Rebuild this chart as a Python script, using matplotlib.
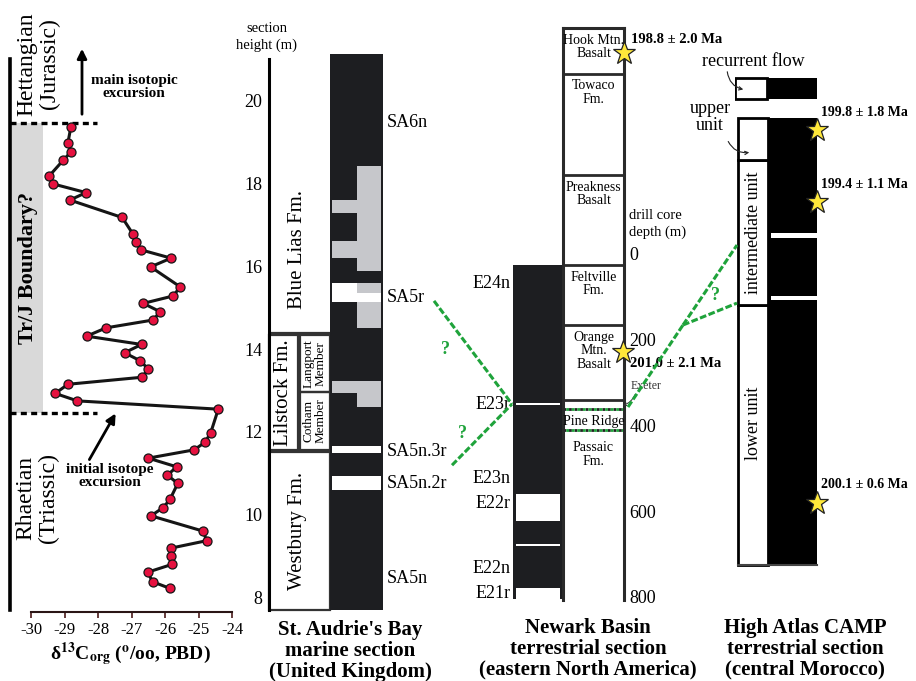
import matplotlib
matplotlib.use("Agg")
import matplotlib.pyplot as plt
from matplotlib.patches import Rectangle, FancyArrowPatch

plt.rcParams['font.family'] = ['Liberation Serif', 'DejaVu Serif']
plt.rcParams['mathtext.fontset'] = 'stix'
plt.rcParams['axes.unicode_minus'] = False

W, H = 916, 681
BLACK = '#1d1e21'
GREY = '#c6c7cb'
BAND = '#d9d9d9'
GREEN = '#1fa33b'
STAR = '#ffe83a'
DOT = '#e5113f'

# St. Audrie's Bay organic carbon isotopes: section height (m) and d13C (per mil)
iso_height = [19.36, 18.97, 18.75, 18.55, 18.17, 17.98, 17.77, 17.59, 17.17, 16.76,
              16.59, 16.39, 16.19, 15.98, 15.50, 15.28, 15.10, 14.90, 14.70, 14.51,
              14.31, 14.11, 13.91, 13.72, 13.52, 13.32, 13.15, 12.93, 12.75, 12.55,
              11.97, 11.75, 11.57, 11.37, 11.16, 10.96, 10.76, 10.38, 10.18, 9.98,
              9.61, 9.38, 9.20, 9.00, 8.81, 8.62, 8.39, 8.23]
iso_d13c = [-28.81, -28.90, -28.81, -29.04, -29.46, -29.35, -28.36, -28.84, -27.28, -26.95,
            -26.87, -26.72, -25.82, -26.43, -25.55, -25.75, -26.65, -26.15, -26.35, -27.76,
            -28.34, -26.70, -27.21, -26.75, -26.50, -26.68, -28.90, -29.28, -28.62, -24.41,
            -24.64, -24.81, -25.13, -26.50, -25.65, -25.93, -25.62, -25.85, -26.05, -26.42,
            -24.86, -24.76, -25.83, -25.81, -25.79, -26.52, -26.37, -25.85]
tj_base, tj_top = 12.46, 19.45
height_ticks = [8, 10, 12, 14, 16, 18, 20]
d13c_ticks = [-30, -29, -28, -27, -26, -25, -24]
SAB_YLIM = (7.71, 21.11)

# St. Audrie's Bay lithostratigraphy (m)
sab_formations = ['Westbury Fm.', 'Lilstock Fm.', 'Blue Lias Fm.']
sab_fm_base = [7.71, 11.57, 14.38]
sab_fm_top = [11.52, 14.33, 21.11]
sab_members = ['Cotham\nMember', 'Langport\nMember']
sab_mb_base = [11.57, 12.96]
sab_mb_top = [12.96, 14.33]

# St. Audrie's Bay magnetostratigraphy: reversed (white) and uncertain (grey) intervals
sab_zone_base = [15.88, 17.28, 16.19, 15.35, 15.35, 15.13, 14.50, 12.94, 12.60, 11.49, 10.60]
sab_zone_top = [18.41, 17.59, 16.60, 15.59, 15.59, 15.35, 15.13, 13.23, 12.94, 11.66, 10.94]
sab_zone_part = ['right', 'left', 'left', 'left', 'right', 'full', 'right', 'full', 'right', 'full', 'full']
sab_zone_kind = ['grey', 'grey', 'grey', 'white', 'grey', 'white', 'grey', 'grey', 'grey', 'white', 'white']
sab_chron = ['SA6n', 'SA5r', 'SA5n.3r', 'SA5n.2r', 'SA5n']
sab_chron_height = [19.47, 15.23, 11.52, 10.77, 8.48]

# Newark Basin drill core (depth, m)
NWK_YLIM = (807, -527)
nwk_formations = ['Hook Mtn.\nBasalt', 'Towaco\nFm.', 'Preakness\nBasalt', 'Feltville\nFm.',
                  'Orange\nMtn.\nBasalt', '', 'Pine Ridge', 'Passaic\nFm.']
nwk_fm_top = [-527, -420, -184, 26, 166, 341, 362, 411]
nwk_dotted = [362, 411]
nwk_pol_top, nwk_pol_base = 26, 805
nwk_rev_top = [348, 560, 677, 779]
nwk_rev_base = [352, 623, 681, 805]
nwk_chron = ['E24n', 'E23r', 'E23n', 'E22r', 'E22n', 'E21r']
nwk_chron_depth = [68, 350, 523, 583, 733, 793]
depth_ticks = [0, 200, 400, 600, 800]
nwk_age_depth = [-469, 229]
nwk_age_label = ['198.8 ± 2.0 Ma', '201.0 ± 2.1 Ma']

# High Atlas CAMP basalts (relative height, % of main pile)
atlas_units = ['lower unit', 'intermediate unit', '']
atlas_unit_base = [0, 58.2, 90.6]
atlas_unit_top = [58.2, 90.6, 100]
atlas_flow_base, atlas_flow_top = 104.2, 108.9
atlas_rev_base = [59.3, 73.2]
atlas_rev_top = [60.2, 74.3]
atlas_age_height = [97.3, 81.2, 13.9]
atlas_age_label = ['199.8 ± 1.8 Ma', '199.4 ± 1.1 Ma', '200.1 ± 0.6 Ma']

# correlation ties
tie_sab_height = [15.16, 11.2]
tie_nwk_left, tie_nwk_right = 350, 357
tie_atlas_height = [71.6, 58.6]
tie_atlas_junction = 53.7

fig = plt.figure(figsize=(W / 100, H / 100), dpi=100)
ov = fig.add_axes([0, 0, 1, 1], zorder=10)
ov.set_xlim(0, W)
ov.set_ylim(H, 0)
ov.axis('off')


def px_axes(x0, y0, x1, y1):
    ax = fig.add_axes([x0 / W, 1 - y1 / H, (x1 - x0) / W, (y1 - y0) / H])
    ax.patch.set_visible(False)
    return ax


def bare(ax):
    for s in ax.spines.values():
        s.set_visible(False)
    ax.set_xticks([])
    ax.set_yticks([])


def ypx(ax, y):
    disp = ax.transData.transform((0, y))
    return ov.transData.inverted().transform(disp)[1]


def star(ax, x, y):
    ax.plot(x, y, marker='*', ms=17, mfc=STAR, mec='#222', mew=0.9, clip_on=False, zorder=5)


# ---- isotope curve
ax_iso = px_axes(10, 54, 232, 612)
ax_iso.set_xlim(-30.63, -24)
ax_iso.set_ylim(SAB_YLIM[0] - 2 / 41.5, SAB_YLIM[1])
ax_iso.add_patch(Rectangle((-30.63, tj_base), 0.985, tj_top - tj_base, color=BAND, lw=0, zorder=0))
for h in (tj_base, tj_top):
    ax_iso.plot([-30.63, -28.03], [h, h], color='k', lw=2.4, ls=(0, (1.8, 1.3)), clip_on=False)
ax_iso.plot(iso_d13c, iso_height, color='#151515', lw=2.2, marker='o', ms=6.5,
            mfc=DOT, mec='#151515', mew=0.9, zorder=3)
ax_iso.spines['top'].set_visible(False)
ax_iso.spines['right'].set_visible(False)
ax_iso.spines['left'].set_linewidth(2.6)
ax_iso.spines['left'].set_bounds(7.72, 21.0)
ax_iso.spines['bottom'].set_bounds(-30, -24)
ax_iso.spines['bottom'].set_linewidth(1.5)
ax_iso.spines['bottom'].set_color('#2a1515')
ax_iso.set_yticks([])
ax_iso.set_xticks(d13c_ticks)
ax_iso.set_xticklabels([str(t) for t in d13c_ticks])
ax_iso.tick_params(axis='x', direction='out', length=4, width=1.2, color='#4a1a1a',
                   labelsize=12, pad=3)

ov.text(38, 64, 'Hettangian\n(Jurassic)', rotation=90, fontsize=17, ha='center', va='center',
        linespacing=1.1)
ov.text(37, 498, 'Rhaetian\n(Triassic)', rotation=90, fontsize=17, ha='center', va='center',
        linespacing=1.1)
ov.text(28, 268, 'Tr/J Boundary?', rotation=90, fontsize=16, fontweight='bold',
        ha='center', va='center')
ov.add_patch(FancyArrowPatch((82, 117), (82, 46), arrowstyle='-|>', mutation_scale=14,
                             lw=2, color='k'))
ov.text(134, 87, 'main isotopic\nexcursion', fontsize=11, fontweight='bold', ha='center',
        va='center', linespacing=1.0)
ov.add_patch(FancyArrowPatch((88, 462), (117, 411), arrowstyle='-|>', mutation_scale=14,
                             lw=2, color='k'))
ov.text(110, 476, 'initial isotope\nexcursion', fontsize=11, fontweight='bold', ha='center',
        va='center', linespacing=1.0)
ov.text(130, 654, 'δ$^{\\mathbf{13}}$C$_{\\mathbf{org}}$ ($^{\\mathbf{o}}$/oo, PBD)',
        fontsize=14, fontweight='bold', ha='center', va='center')

# ---- St. Audrie's Bay lithology
ax_fm = px_axes(269, 54, 330, 610)
ax_fm.set_xlim(0, 1)
ax_fm.set_ylim(*SAB_YLIM)
for k in ('top', 'right', 'bottom'):
    ax_fm.spines[k].set_visible(False)
ax_fm.spines['left'].set_linewidth(2.2)
ax_fm.spines['left'].set_bounds(7.71, 21.0)
ax_fm.set_xticks([])
ax_fm.set_yticks(height_ticks)
ax_fm.tick_params(axis='y', length=0, labelsize=13, pad=5)

fm_x = {'Westbury Fm.': (0.0, 1.0), 'Lilstock Fm.': (0.0, 0.48)}
for name, b, t in zip(sab_formations, sab_fm_base, sab_fm_top):
    if name in fm_x:
        x0, x1 = fm_x[name]
        ax_fm.add_patch(Rectangle((x0, b), x1 - x0, t - b, fc='none', ec='#333', lw=1.6,
                                  clip_on=False))
        ax_fm.text((x0 + x1) / 2 if x1 < 1 else 0.46, (b + t) / 2, name, rotation=90,
                   fontsize=15, ha='center', va='center')
    else:
        ax_fm.plot([0, 1], [b, b], color='#333', lw=1.6)
        ax_fm.text(0.46, (b + 18.4) / 2, name, rotation=90, fontsize=15, ha='center',
                   va='center')
for name, b, t in zip(sab_members, sab_mb_base, sab_mb_top):
    ax_fm.add_patch(Rectangle((0.5, b), 0.5, t - b, fc='none', ec='#333', lw=1.6, clip_on=False))
    ax_fm.text(0.75, (b + t) / 2, name, rotation=90, fontsize=9.5, ha='center', va='center',
               linespacing=0.95)

ov.text(267, 37, 'section\nheight (m)', fontsize=10.5, ha='center', va='center', linespacing=1.3)

# ---- St. Audrie's Bay polarity
ax_pol = px_axes(330, 54, 383, 610)
ax_pol.set_xlim(0, 1)
ax_pol.set_ylim(*SAB_YLIM)
bare(ax_pol)
ax_pol.add_patch(Rectangle((0, SAB_YLIM[0]), 1, SAB_YLIM[1] - SAB_YLIM[0], color=BLACK, lw=0))
part_x = {'full': (0.04, 0.96), 'left': (0.04, 0.5), 'right': (0.5, 0.96)}
for b, t, part, kind in zip(sab_zone_base, sab_zone_top, sab_zone_part, sab_zone_kind):
    x0, x1 = part_x[part]
    ax_pol.add_patch(Rectangle((x0, b), x1 - x0, t - b, lw=0,
                               color='white' if kind == 'white' else GREY))
for name, h in zip(sab_chron, sab_chron_height):
    ax_pol.annotate(name, (1, h), xytext=(3, 0), textcoords='offset points', fontsize=13,
                    ha='left', va='center', annotation_clip=False)

ov.text(350, 620, "St. Audrie's Bay\nmarine section\n(United Kingdom)", fontsize=15,
        fontweight='bold', ha='center', va='top', linespacing=1.05)

# ---- Newark Basin polarity
ax_npol = px_axes(513, 28, 563, 600)
ax_npol.set_xlim(0, 1)
ax_npol.set_ylim(*NWK_YLIM)
bare(ax_npol)
ax_npol.add_patch(Rectangle((0, nwk_pol_top), 1, nwk_pol_base - nwk_pol_top, color=BLACK, lw=0))
for t, b in zip(nwk_rev_top, nwk_rev_base):
    ax_npol.add_patch(Rectangle((0.05, t), 0.9, b - t, color='white', lw=0))
for name, d in zip(nwk_chron, nwk_chron_depth):
    ax_npol.annotate(name, (0, d), xytext=(-2, 0), textcoords='offset points', fontsize=13,
                     ha='right', va='center', annotation_clip=False)

# ---- Newark Basin formations
ax_nfm = px_axes(563, 28, 624, 600)
ax_nfm.set_xlim(0, 1)
ax_nfm.set_ylim(*NWK_YLIM)
ax_nfm.spines['bottom'].set_visible(False)
for k in ('left', 'right', 'top'):
    ax_nfm.spines[k].set_linewidth(2.2)
    ax_nfm.spines[k].set_color('#2a2a2a')
ax_nfm.set_xticks([])
ax_nfm.yaxis.tick_right()
ax_nfm.set_yticks(depth_ticks)
ax_nfm.tick_params(axis='y', length=0, labelsize=13, pad=4)
for name, top in zip(nwk_formations, nwk_fm_top):
    if top in nwk_dotted:
        ax_nfm.plot([0, 1], [top, top], color='#222', lw=2, ls=(0, (1, 1)))
        ax_nfm.plot([0, 1], [top, top], color=GREEN, lw=2, ls=(1, (1, 1)))
    else:
        ax_nfm.plot([0, 1], [top, top], color='#2a2a2a', lw=2)
    if name:
        ax_nfm.annotate(name, (0.5, top), xytext=(0, -4 if name != 'Passaic\nFm.' else -8),
                        textcoords='offset points', fontsize=10, ha='center', va='top',
                        linespacing=1.05)
for d, lab in zip(nwk_age_depth, nwk_age_label):
    x = 1.0 if d < 0 else 0.98
    star(ax_nfm, x, d)
    ax_nfm.annotate(lab, (x, d), xytext=(5, 9.5 if d < 0 else -8), textcoords='offset points',
                    fontsize=10.5, fontweight='bold', ha='left', va='center',
                    annotation_clip=False)

ov.text(629, 224, 'drill core\ndepth (m)', fontsize=10.5, ha='left', va='center',
        linespacing=1.25)
ov.text(631, 386, 'Exeter', fontsize=8.5, color='#333', ha='left', va='center')
ov.add_patch(FancyArrowPatch((636, 392), (620, 406), arrowstyle='->', mutation_scale=5,
                             lw=0.7, color='#333', connectionstyle='arc3,rad=-0.3'))
ov.text(588, 618, 'Newark Basin\nterrestrial section\n(eastern North America)', fontsize=15,
        fontweight='bold', ha='center', va='top', linespacing=1.05)

# ---- High Atlas CAMP
ax_at = px_axes(735, 60, 817, 570)
ax_at.set_xlim(0, 1)
ax_at.set_ylim(-1.12, 113)
bare(ax_at)
ax_at.add_patch(Rectangle((0.40, 0), 0.60, atlas_unit_top[-1], color='black', lw=0))
for b, t in zip(atlas_rev_base, atlas_rev_top):
    ax_at.add_patch(Rectangle((0.44, b), 0.56, t - b, color='white', lw=0))
for name, b, t in zip(atlas_units, atlas_unit_base, atlas_unit_top):
    ax_at.add_patch(Rectangle((0.037, b), 0.363, t - b, fc='white', ec='black', lw=2))
    if name:
        ax_at.text(0.22, (b + t) / 2 + (2.5 if b == 0 else 0), name, rotation=90, fontsize=13,
                   ha='center', va='center')
ax_at.plot([0.037, 1], [0, 0], color='#444', lw=1.5, clip_on=False)
ax_at.add_patch(Rectangle((0.39, atlas_flow_base), 0.61, atlas_flow_top - atlas_flow_base,
                          color='black', lw=0))
ax_at.add_patch(Rectangle((0.0, atlas_flow_base), 0.39, atlas_flow_top - atlas_flow_base,
                          fc='white', ec='black', lw=2))
for h, lab in zip(atlas_age_height, atlas_age_label):
    star(ax_at, 1.0, h)
    ax_at.annotate(lab, (1.0, h), xytext=(3, 13), textcoords='offset points', fontsize=10,
                   fontweight='bold', ha='left', va='center', annotation_clip=False)

ov.text(753, 61, 'recurrent flow', fontsize=13, ha='center', va='center')
ov.add_patch(FancyArrowPatch((727, 69), (746, 90), arrowstyle='->', mutation_scale=6,
                             lw=0.8, color='#222', connectionstyle='arc3,rad=0.4'))
ov.text(710, 117, 'upper\nunit', fontsize=13, ha='center', va='center', linespacing=1.05)
ov.add_patch(FancyArrowPatch((727, 139), (752, 152), arrowstyle='->', mutation_scale=6,
                             lw=0.8, color='#222', connectionstyle='arc3,rad=0.4'))
ov.text(805, 618, 'High Atlas CAMP\nterrestrial section\n(central Morocco)', fontsize=15,
        fontweight='bold', ha='center', va='top', linespacing=1.05)

# ---- correlation ties
tie_kw = dict(color=GREEN, lw=2.2, ls=(0, (2.2, 0.8)), zorder=6)
y_nwk_left = ypx(ax_npol, tie_nwk_left)
for x0, h in zip((434, 452), tie_sab_height):
    ov.plot([x0, 512], [ypx(ax_pol, h), y_nwk_left], **tie_kw)
y_junc = ypx(ax_at, tie_atlas_junction)
ov.plot([628, 683], [ypx(ax_nfm, tie_nwk_right), y_junc], **tie_kw)
for h in tie_atlas_height:
    ov.plot([683, 737], [y_junc, ypx(ax_at, h)], **tie_kw)
for x, y in ((445, 350), (462, 433), (715, 295)):
    ov.text(x, y, '?', color=GREEN, fontsize=13, fontweight='bold', ha='center', va='center')

fig.savefig('out.png', dpi=100)
